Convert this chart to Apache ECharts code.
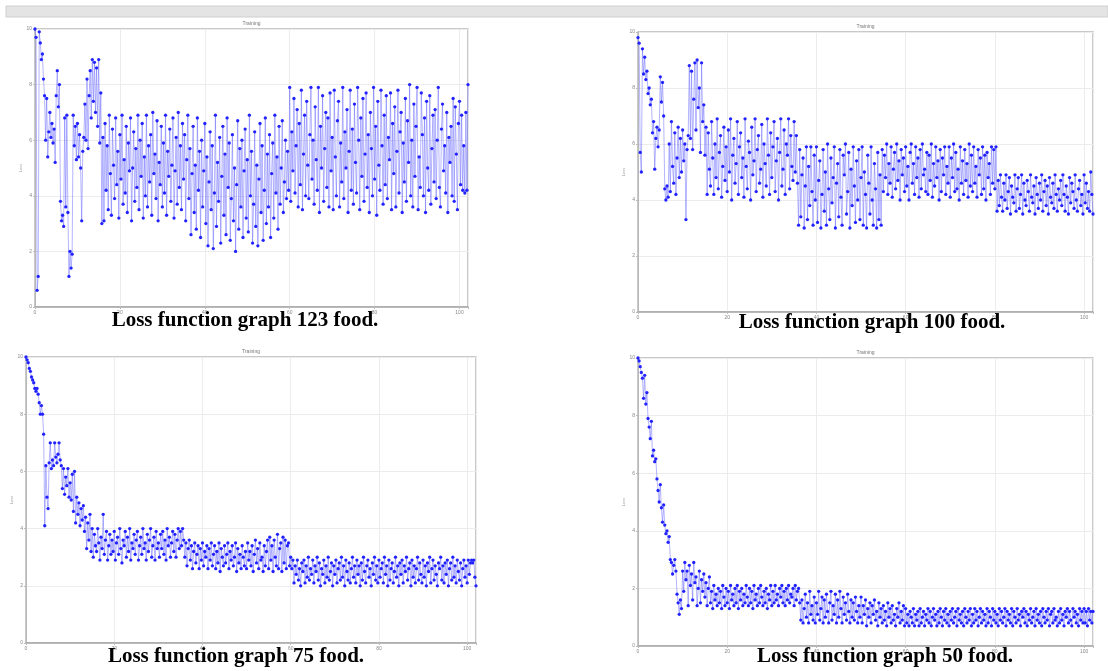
<!DOCTYPE html>
<html>
<head>
<meta charset="utf-8">
<script src="https://cdn.jsdelivr.net/npm/echarts@6/dist/echarts.min.js"></script>
<style>
html,body{margin:0;padding:0;background:#fff;}
#c{width:1108px;height:671px;}
</style>
</head>
<body>
<div id="c"></div>
<script>
// epoch step between logged points
var xStep = 0.25;
var xTicks = [0, 20, 40, 60, 80, 100];
var yTicks = [0, 2, 4, 6, 8, 10];
var captions = ['Loss function graph 123 food.', 'Loss function graph 100 food.', 'Loss function graph 75 food.', 'Loss function graph 50 food.'];

var loss123 = [
10.0, 9.7, 0.6, 1.1, 9.9, 9.5, 8.9, 9.1, 8.2, 7.6, 6.0, 7.5, 5.4, 6.3, 7.0, 6.1, 6.6, 5.9, 6.4, 5.2,
7.6, 8.5, 7.2, 8.0, 3.8, 3.1, 3.3, 2.9, 6.8, 3.6, 6.9, 3.4, 1.1, 2.0, 1.4, 1.9, 6.9, 5.8, 6.5, 5.3,
6.6, 5.4, 6.2, 5.0, 3.1, 5.6, 6.1, 7.3, 6.0, 8.2, 5.7, 7.6, 8.5, 6.8, 8.9, 7.4, 8.8, 7.0, 8.6, 6.5,
8.9, 5.9, 7.7, 3.0, 6.1, 3.1, 6.6, 4.2, 5.8, 3.5, 6.9, 4.8, 3.3, 6.4, 5.1, 3.9, 6.8, 4.4, 5.6, 3.2,
6.2, 4.6, 6.9, 3.7, 5.3, 4.1, 6.5, 3.4, 5.9, 4.9, 6.8, 3.1, 5.0, 6.3, 3.8, 5.7, 4.3, 6.9, 3.5, 6.0,
4.7, 6.6, 3.2, 5.4, 4.0, 6.9, 3.6, 5.8, 4.5, 6.2, 3.3, 7.0, 4.8, 5.5, 3.9, 6.7, 3.1, 5.2, 4.4, 6.5,
3.6, 5.9, 4.1, 6.9, 3.3, 5.6, 4.7, 6.4, 3.8, 5.1, 6.8, 3.2, 4.9, 6.1, 3.7, 7.0, 4.3, 5.8, 3.5, 6.6,
4.6, 6.2, 3.1, 5.3, 6.9, 3.9, 5.7, 2.6, 4.8, 6.5, 3.4, 5.1, 2.8, 6.8, 4.2, 5.6, 2.5, 6.0, 3.6, 4.9,
6.6, 3.0, 5.4, 2.2, 4.5, 6.3, 3.5, 5.8, 2.1, 4.1, 6.9, 2.9, 5.2, 3.8, 6.1, 2.3, 4.7, 6.5, 3.3, 5.5,
2.6, 6.8, 4.3, 5.9, 2.4, 3.9, 6.2, 3.1, 5.0, 2.0, 4.4, 6.7, 2.8, 5.7, 3.6, 6.0, 2.5, 4.9, 6.4, 3.2,
5.3, 2.7, 6.9, 4.0, 5.6, 2.3, 3.7, 6.3, 2.9, 5.1, 2.2, 4.6, 6.6, 3.4, 5.8, 2.4, 4.2, 6.8, 3.0, 5.5,
3.6, 6.2, 2.5, 4.8, 5.9, 3.2, 6.9, 4.1, 5.4, 2.8, 6.5, 3.7, 5.0, 6.7, 3.4, 4.5, 6.0, 3.9, 5.6, 4.2,
7.9, 3.8, 6.3, 4.9, 7.5, 4.1, 5.8, 7.1, 3.6, 6.6, 4.4, 7.8, 3.5, 5.5, 6.9, 4.0, 7.4, 5.1, 3.9, 6.2,
7.9, 4.6, 6.0, 3.7, 7.2, 5.3, 4.2, 7.9, 3.4, 6.5, 5.0, 7.6, 3.8, 5.7, 7.0, 4.3, 6.8, 3.6, 7.7, 4.9,
6.1, 3.5, 7.8, 5.4, 4.0, 6.7, 7.4, 3.6, 5.9, 4.5, 7.9, 3.9, 6.3, 5.0, 7.1, 3.4, 5.6, 7.8, 4.2, 6.4,
3.7, 7.3, 5.2, 4.1, 7.9, 6.0, 3.5, 6.8, 4.7, 7.5, 3.8, 5.5, 7.7, 4.3, 6.2, 3.4, 7.0, 5.7, 4.0, 7.9,
4.6, 6.5, 3.3, 7.4, 5.1, 4.2, 7.8, 5.8, 3.7, 6.9, 4.4, 7.6, 3.9, 6.1, 5.3, 7.7, 3.5, 6.6, 4.8, 7.2,
3.6, 5.6, 7.8, 4.1, 6.3, 7.0, 3.4, 5.9, 4.5, 7.5, 3.8, 6.7, 5.2, 8.0, 4.0, 6.0, 3.6, 7.3, 4.7, 6.5,
7.9, 3.5, 5.4, 4.3, 7.7, 6.2, 4.0, 6.8, 3.4, 7.4, 5.0, 4.2, 7.6, 3.7, 5.7, 6.9, 4.5, 7.1, 3.9, 6.0,
7.9, 4.3, 3.6, 6.4, 7.3, 4.9, 5.8, 4.1, 7.0, 3.4, 6.1, 5.2, 6.5, 4.0, 7.5, 3.8, 7.2, 5.5, 3.5, 6.6,
7.4, 4.4, 6.9, 4.2, 5.8, 4.1, 7.0, 4.2, 8.0
];

var loss100 = [
9.8, 9.6, 5.7, 5.0, 9.4, 8.5, 9.1, 8.3, 8.6, 7.8, 8.0, 7.4, 7.6, 6.4, 6.8, 5.1, 6.2, 6.6, 5.9, 6.5,
8.4, 7.5, 8.2, 7.0, 4.4, 4.0, 4.5, 4.1, 6.0, 4.3, 6.8, 5.2, 4.6, 6.4, 4.2, 5.5, 6.6, 4.8, 6.2, 5.0,
6.5, 5.4, 6.0, 3.3, 5.8, 6.3, 8.8, 6.2, 8.6, 5.8, 7.6, 8.9, 6.5, 9.0, 7.3, 8.0, 5.7, 8.9, 6.8, 7.4,
5.6, 6.6, 4.2, 6.4, 5.1, 4.5, 6.8, 5.5, 4.2, 6.0, 4.8, 6.9, 4.4, 5.7, 6.3, 4.1, 5.2, 6.6, 4.7, 5.9,
4.3, 6.5, 5.0, 6.9, 4.0, 5.6, 6.2, 4.6, 5.3, 6.8, 4.2, 5.9, 6.4, 4.8, 5.5, 4.1, 6.9, 5.2, 4.4, 6.1,
5.7, 4.0, 6.6, 4.9, 5.4, 6.9, 4.3, 5.8, 6.3, 4.6, 5.1, 6.7, 4.1, 6.0, 5.3, 4.5, 6.9, 5.6, 4.2, 6.4,
4.8, 5.9, 6.8, 4.3, 5.4, 6.2, 4.0, 5.7, 6.9, 4.5, 5.1, 6.5, 4.2, 6.0, 5.6, 6.9, 4.4, 6.3, 5.2, 4.7,
6.8, 5.0, 6.3, 4.6, 3.1, 5.8, 3.4, 4.9, 5.5, 3.0, 4.5, 5.9, 3.3, 5.2, 3.8, 5.9, 4.3, 3.1, 5.6, 4.0,
5.9, 3.2, 4.7, 5.4, 3.0, 4.2, 5.8, 3.6, 5.0, 3.1, 6.0, 4.4, 3.3, 5.5, 3.9, 4.8, 5.9, 3.0, 4.6, 5.3,
3.4, 5.8, 4.1, 3.1, 5.6, 4.9, 6.0, 3.5, 4.3, 5.7, 3.0, 5.1, 3.8, 5.9, 4.5, 3.2, 5.4, 4.0, 5.8, 3.3,
4.8, 5.9, 3.1, 5.0, 4.2, 3.0, 5.6, 4.6, 3.5, 5.9, 4.0, 3.1, 5.3, 4.4, 3.0, 5.7, 3.3, 4.9, 3.1, 5.8,
4.3, 5.6, 4.8, 6.0, 4.2, 5.3, 4.6, 5.9, 4.1, 5.1, 5.7, 4.4, 6.0, 4.7, 5.4, 4.0, 5.8, 4.9, 5.5, 4.3,
5.9, 4.5, 5.2, 4.0, 5.7, 6.0, 4.6, 5.3, 4.2, 5.9, 4.8, 5.5, 4.1, 5.8, 4.4, 6.0, 4.9, 5.1, 4.3, 5.7,
4.2, 5.6, 4.7, 6.0, 4.1, 5.3, 4.5, 5.9, 4.8, 5.4, 4.0, 5.8, 4.3, 5.5, 4.9, 5.9, 4.2, 5.2, 4.6, 5.9,
4.1, 5.5, 4.8, 6.0, 4.3, 5.7, 4.4, 5.1, 4.0, 5.9, 4.6, 5.4, 4.2, 5.8, 4.7, 5.3, 4.1, 6.0, 4.5, 5.6,
4.3, 5.9, 4.6, 5.2, 4.1, 5.8, 4.9, 5.5, 4.2, 5.9, 4.4, 5.6, 4.0, 5.7, 4.8, 5.3, 4.2, 5.9, 4.6, 5.8,
4.4, 5.9, 3.6, 4.7, 3.8, 4.9, 4.1, 3.6, 4.6, 4.0, 4.9, 3.7, 4.3, 4.8, 3.5, 4.5, 4.1, 3.9, 4.9, 3.6,
4.4, 4.8, 3.7, 4.2, 4.9, 3.5, 4.6, 4.0, 3.8, 4.7, 4.3, 3.6, 4.9, 4.1, 3.9, 4.5, 3.5, 4.8, 4.2, 3.7,
4.6, 4.0, 4.9, 3.6, 4.3, 4.7, 3.8, 4.5, 3.5, 4.8, 4.1, 3.9, 4.6, 3.7, 4.9, 4.2, 3.6, 4.4, 4.0, 4.7,
3.8, 4.9, 4.2, 3.6, 4.5, 4.1, 3.5, 4.8, 3.9, 4.6, 4.3, 3.7, 4.9, 4.0, 3.6, 4.4, 4.7, 3.8, 4.2, 3.5,
4.9, 3.9, 4.6, 3.7, 4.3, 3.6, 5.0, 4.2, 3.5
];

var loss75 = [
10.0, 9.9, 9.8, 9.6, 9.5, 9.3, 9.2, 9.1, 8.9, 8.8, 8.9, 8.7, 8.4, 8.0, 8.3, 8.0, 7.3, 4.1, 6.2, 5.1,
4.7, 6.3, 7.0, 6.1, 6.4, 6.2, 7.0, 6.5, 6.3, 6.6, 7.0, 6.4, 6.2, 5.4, 6.1, 5.2, 5.8, 5.5, 6.1, 5.1,
5.6, 5.0, 5.9, 4.6, 6.0, 4.2, 5.1, 4.5, 4.9, 4.1, 4.7, 4.3, 4.8, 3.9, 4.4, 3.3, 4.2, 3.6, 4.5, 3.2,
4.0, 3.0, 3.8, 3.4, 3.2, 4.0, 3.5, 2.9, 3.7, 3.3, 4.5, 3.1, 3.6, 3.9, 2.9, 3.4, 3.8, 3.1, 3.6, 3.2,
3.9, 2.9, 3.5, 3.7, 3.1, 4.0, 3.3, 2.8, 3.6, 3.4, 3.9, 3.0, 3.7, 3.2, 4.0, 2.9, 3.5, 3.3, 3.8, 3.1,
3.6, 3.9, 2.9, 3.4, 3.7, 3.1, 4.0, 3.3, 3.5, 2.9, 3.8, 3.2, 3.6, 4.0, 3.0, 3.4, 3.7, 2.9, 3.9, 3.3,
3.5, 3.0, 3.8, 3.3, 3.9, 3.1, 3.6, 2.9, 4.0, 3.4, 3.7, 3.0, 3.5, 3.9, 3.2, 3.8, 3.0, 3.6, 4.0, 3.3,
3.9, 3.4, 4.0, 3.6, 3.0, 3.5, 2.7, 3.3, 3.6, 2.9, 3.4, 2.6, 3.2, 3.5, 2.8, 3.1, 3.4, 2.6, 3.3, 2.9,
3.5, 2.7, 3.2, 3.0, 3.4, 2.6, 3.3, 2.9, 3.5, 2.7, 3.1, 3.4, 2.6, 3.2, 2.8, 3.5, 2.5, 3.3, 3.0, 2.7,
3.4, 2.8, 3.1, 3.5, 2.6, 3.2, 2.9, 3.4, 2.7, 3.0, 3.5, 2.5, 3.3, 2.8, 3.1, 2.6, 3.4, 3.0, 2.7, 3.2,
2.6, 3.5, 2.9, 3.2, 2.7, 3.4, 2.5, 3.1, 3.6, 2.8, 3.3, 2.6, 3.5, 2.9, 3.0, 2.5, 3.4, 2.7, 3.2, 3.6,
2.6, 3.7, 2.9, 3.4, 2.5, 3.6, 3.0, 2.7, 3.8, 2.6, 3.3, 3.5, 2.5, 3.7, 2.8, 3.6, 2.6, 3.4, 3.5, 2.7,
3.0, 2.6, 2.9, 2.1, 2.7, 2.4, 2.9, 2.2, 2.6, 2.0, 2.8, 2.5, 2.9, 2.1, 2.7, 2.3, 3.0, 2.2, 2.6, 2.4,
2.9, 2.1, 2.7, 2.5, 3.0, 2.2, 2.8, 2.0, 2.6, 2.4, 2.9, 2.1, 2.7, 2.3, 3.0, 2.2, 2.5, 2.8, 2.0, 2.7,
2.4, 2.9, 2.1, 2.6, 2.8, 2.2, 3.0, 2.3, 2.7, 2.0, 2.9, 2.5, 2.2, 2.8, 2.1, 2.6, 3.0, 2.3, 2.7, 2.1,
2.9, 2.4, 2.7, 2.0, 2.8, 2.2, 3.0, 2.5, 2.1, 2.7, 2.9, 2.3, 2.6, 2.0, 2.8, 2.4, 3.0, 2.2, 2.7, 2.1,
2.9, 2.3, 2.6, 2.8, 2.1, 3.0, 2.4, 2.7, 2.0, 2.9, 2.2, 2.6, 2.8, 2.1, 2.5, 3.0, 2.3, 2.7, 2.0, 2.8,
2.4, 2.9, 2.1, 2.7, 2.5, 3.0, 2.2, 2.6, 2.8, 2.0, 2.9, 2.3, 2.7, 2.1, 2.6, 3.0, 2.2, 2.8, 2.4, 2.1,
2.9, 2.3, 2.7, 2.0, 2.8, 2.5, 3.0, 2.1, 2.6, 2.9, 2.2, 2.7, 2.4, 2.0, 2.8, 2.6, 3.0, 2.2, 2.7, 2.1,
2.8, 2.4, 2.9, 2.0, 2.6, 2.8, 2.2, 3.0, 2.3, 2.7, 2.1, 2.9, 2.5, 2.2, 2.8, 2.0, 2.6, 2.9, 2.3, 2.7,
2.1, 2.9, 2.4, 2.8, 2.9, 2.8, 2.9, 2.3, 2.0
];

var loss50 = [
10.0, 9.9, 9.7, 9.5, 9.3, 8.6, 9.4, 8.4, 8.8, 7.9, 7.6, 7.2, 7.8, 6.6, 6.8, 6.4, 6.5, 5.8, 5.4, 5.0,
5.6, 4.8, 4.3, 4.9, 4.2, 3.9, 4.0, 3.6, 3.8, 3.0, 2.9, 2.5, 2.8, 3.0, 2.6, 1.8, 1.5, 1.1, 1.6, 1.3,
2.6, 1.9, 2.9, 2.3, 2.6, 1.4, 2.8, 2.1, 2.5, 1.6, 2.9, 2.2, 2.4, 1.4, 2.0, 2.6, 1.5, 2.3, 1.9, 2.5,
1.7, 2.2, 1.4, 2.0, 2.4, 1.5, 1.9, 1.3, 2.1, 1.6, 1.8, 1.4, 2.0, 1.5, 1.9, 1.3, 2.1, 1.7, 1.4, 2.0,
1.5, 1.9, 1.3, 2.1, 1.6, 1.8, 1.4, 2.0, 1.5, 2.1, 1.3, 1.9, 1.6, 2.0, 1.4, 1.8, 1.5, 2.1, 1.7, 1.4,
2.0, 1.5, 1.9, 1.3, 2.1, 1.6, 1.8, 1.4, 2.0, 1.5, 2.1, 1.7, 1.4, 1.9, 1.5, 2.0, 1.3, 1.8, 1.6, 2.1,
1.4, 1.9, 1.5, 2.1, 1.6, 1.8, 1.4, 2.0, 1.7, 2.1, 1.5, 1.9, 1.4, 2.0, 1.6, 2.1, 1.5, 1.8, 1.7, 2.0,
1.4, 2.1, 1.6, 1.9, 2.0, 1.5, 0.9, 1.6, 0.8, 1.3, 1.8, 1.0, 1.5, 0.8, 1.9, 1.1, 1.4, 0.9, 1.7, 0.8,
1.5, 1.1, 1.9, 0.9, 1.3, 1.7, 0.8, 1.6, 1.0, 1.8, 1.2, 0.8, 1.5, 1.9, 0.9, 1.4, 1.1, 1.8, 0.8, 1.6,
1.0, 1.9, 1.3, 0.8, 1.7, 1.1, 1.5, 0.9, 1.8, 1.2, 0.8, 1.6, 1.0, 1.5, 0.9, 1.7, 1.2, 0.8, 1.4, 1.0,
1.7, 0.8, 1.4, 1.1, 1.6, 0.7, 1.3, 1.0, 1.5, 0.8, 1.4, 1.1, 1.6, 0.9, 1.2, 0.7, 1.5, 1.0, 1.3, 0.8,
1.4, 0.9, 1.2, 0.7, 1.5, 1.0, 1.3, 0.8, 1.4, 0.9, 1.1, 0.7, 1.3, 1.0, 1.5, 0.8, 1.2, 0.9, 1.4, 0.7,
1.3, 0.8, 1.1, 0.7, 1.2, 1.0, 0.8, 1.3, 0.7, 1.1, 0.9, 1.2, 0.7, 1.3, 0.8, 1.0, 1.2, 0.7, 1.1, 0.9,
1.3, 0.8, 1.2, 0.7, 1.0, 1.3, 0.9, 1.1, 0.7, 1.2, 0.8, 1.3, 1.0, 0.7, 1.2, 0.9, 1.3, 0.8, 1.1, 0.7,
1.2, 0.9, 1.3, 0.8, 1.0, 1.2, 0.7, 1.3, 0.9, 1.1, 0.8, 1.2, 0.7, 1.3, 1.0, 0.8, 1.2, 0.9, 1.3, 0.7,
1.1, 0.8, 1.3, 0.9, 1.2, 0.7, 1.0, 1.3, 0.8, 1.2, 0.9, 1.1, 0.7, 1.3, 0.8, 1.2, 1.0, 0.7, 1.3, 0.9,
1.2, 0.8, 1.1, 0.7, 1.3, 0.9, 1.2, 0.8, 1.0, 1.3, 0.7, 1.2, 0.9, 1.1, 0.8, 1.3, 0.7, 1.2, 1.0, 0.8,
1.3, 0.9, 1.1, 0.7, 1.2, 1.0, 1.3, 0.8, 1.2, 0.7, 1.1, 0.9, 1.3, 0.8, 1.0, 1.2, 0.7, 1.3, 0.9, 1.1,
0.8, 1.2, 0.7, 1.3, 1.0, 0.8, 1.2, 0.9, 1.3, 0.7, 1.1, 1.2, 0.8, 1.3, 0.9, 1.0, 0.7, 1.2, 0.8, 1.3,
0.9, 1.1, 0.7, 1.2, 1.0, 1.3, 0.8, 1.2, 0.9, 0.7, 1.3, 1.0, 1.2, 0.8, 1.1, 0.7, 1.3, 0.9, 1.2, 0.8,
1.3, 0.8, 1.2, 0.7, 1.3, 0.9, 1.2, 0.8, 1.2
];

var allLoss = [loss123, loss100, loss75, loss50];

// layout of the four panels
var panels = [
  {left: 35,  top: 29,  width: 433, height: 278, capX: 245, capY: 321},
  {left: 638, top: 32,  width: 455, height: 280, capX: 872, capY: 323},
  {left: 26,  top: 357, width: 450, height: 286, capX: 236, capY: 657},
  {left: 638, top: 358, width: 455, height: 288, capX: 885, capY: 657}
];

var grids = [], xAxes = [], yAxes = [], series = [], graphics = [];

graphics.push({type: 'rect', shape: {x: 6, y: 6, width: 1102, height: 11}, style: {fill: '#e4e4e4', stroke: '#cfcfcf', lineWidth: 1}, z: 0});

panels.forEach(function (p, k) {
  grids.push({left: p.left, top: p.top, width: p.width, height: p.height, show: true, borderColor: '#b8b8b8', borderWidth: 1.5, backgroundColor: '#fff'});
  xAxes.push({
    type: 'value', gridIndex: k, min: 0, max: 102, interval: 20,
    axisLine: {show: true, lineStyle: {color: '#a8a8a8', width: 1.5}},
    axisTick: {show: true, length: 2, lineStyle: {color: '#bbb'}},
    axisLabel: {fontSize: 5, color: '#888', margin: 3, fontFamily: 'Liberation Sans',
      formatter: function (v) { return xTicks.indexOf(v) >= 0 ? String(v) : ''; }},
    splitLine: {show: true, lineStyle: {color: '#ececec', width: 1}}
  });
  yAxes.push({
    type: 'value', gridIndex: k, min: 0, max: 10, interval: 2,
    name: 'Loss', nameLocation: 'middle', nameGap: 8, nameTextStyle: {fontSize: 4, color: '#999', fontFamily: 'Liberation Sans'},
    axisLine: {show: true, lineStyle: {color: '#b8b8b8', width: 1}},
    axisTick: {show: true, length: 2, lineStyle: {color: '#bbb'}},
    axisLabel: {fontSize: 5, color: '#888', margin: 3, fontFamily: 'Liberation Sans',
      formatter: function (v) { return yTicks.indexOf(v) >= 0 ? String(v) : ''; }},
    splitLine: {show: true, lineStyle: {color: '#ececec', width: 1}}
  });
  var arr = allLoss[k];
  series.push({
    type: 'line', xAxisIndex: k, yAxisIndex: k,
    data: arr.map(function (v, i) { return [i * xStep, v]; }),
    symbol: 'circle', symbolSize: 3.3, showSymbol: true,
    itemStyle: {color: '#2222ff'},
    lineStyle: {color: 'rgba(90,90,255,0.45)', width: 1},
    silent: true, animation: false
  });
  graphics.push({type: 'text', x: p.left + p.width / 2, y: p.top - 5,
    style: {text: 'Training', fontSize: 5, fill: '#777', align: 'center', verticalAlign: 'middle', fontFamily: 'Liberation Sans'}, z: 10});
  graphics.push({type: 'text', x: p.capX, y: p.capY,
    style: {text: captions[k], fontSize: 21, fontWeight: 'bold', fill: '#000', align: 'center', verticalAlign: 'middle', fontFamily: 'Liberation Serif'}, z: 10});
});

var chart = echarts.init(document.getElementById('c'), null, {renderer: 'canvas'});
chart.setOption({
  animation: false,
  backgroundColor: '#fff',
  grid: grids,
  xAxis: xAxes,
  yAxis: yAxes,
  series: series,
  graphic: graphics
});
</script>
</body>
</html>
